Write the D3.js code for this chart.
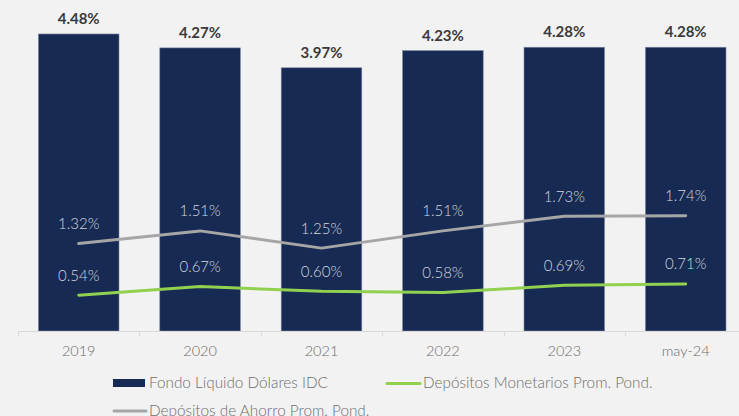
<!DOCTYPE html>
<html>
<head>
<meta charset="utf-8">
<script src="https://cdn.jsdelivr.net/npm/d3@7"></script>
<style>
  html, body { margin: 0; padding: 0; background: #f2f2f2; overflow: hidden; }
  svg { display: block; }
  text { font-family: Lato, "Open Sans", sans-serif; }
</style>
</head>
<body>
<svg id="chart" width="739" height="416"></svg>
<script>
const categories = ["2019", "2020", "2021", "2022", "2023", "may-24"];
const fondoLiquido = [4.48, 4.27, 3.97, 4.23, 4.28, 4.28];
const depAhorro = [1.32, 1.51, 1.25, 1.51, 1.73, 1.74];
const depMonetarios = [0.54, 0.67, 0.60, 0.58, 0.69, 0.71];
const legendLabels = ["Fondo Líquido Dólares IDC", "Depósitos Monetarios Prom. Pond.", "Depósitos de Ahorro Prom. Pond."];

const W = 739, H = 416;
const svg = d3.select("#chart");
svg.append("rect").attr("width", W).attr("height", H).attr("fill", "#f2f2f2");

const baseY = 331;
const x = d3.scaleBand().domain(categories).range([18, 746.4]).paddingInner(0.336).paddingOuter(0.168);
const y = d3.scaleLinear().domain([0, 5]).range([baseY, baseY - 5 * 66.3]);
const fmt = v => v.toFixed(2) + "%";
const cx = c => x(c) + x.bandwidth() / 2;

// bars
svg.append("g").selectAll("rect").data(categories).join("rect")
  .attr("x", c => x(c))
  .attr("y", (c, i) => y(fondoLiquido[i]))
  .attr("width", x.bandwidth())
  .attr("height", (c, i) => baseY - y(fondoLiquido[i]))
  .attr("fill", "#172a53")
  .attr("stroke", "#7d8aa3")
  .attr("stroke-width", 0.6);

// bar labels
svg.append("g").selectAll("text").data(categories).join("text")
  .attr("x", c => cx(c))
  .attr("y", (c, i) => y(fondoLiquido[i]) - 10)
  .attr("text-anchor", "middle")
  .attr("font-size", 15)
  .attr("font-weight", "bold")
  .attr("fill", "#3a3a3a")
  .text((c, i) => fmt(fondoLiquido[i]));

// axis
const axis = svg.append("g");
axis.append("line").attr("x1", 18).attr("x2", W).attr("y1", baseY + 0.5).attr("y2", baseY + 0.5)
  .attr("stroke", "#d9d9d9").attr("stroke-width", 1);
const step = x.step();
const bounds = categories.map(c => x(c) - step * x.paddingInner() / 2).concat([x(categories[categories.length - 1]) + x.bandwidth() + step * x.paddingInner() / 2]);
axis.selectAll("line.tick").data(bounds).join("line").attr("class", "tick")
  .attr("x1", d => Math.round(d) + 0.5).attr("x2", d => Math.round(d) + 0.5)
  .attr("y1", baseY).attr("y2", baseY + 5)
  .attr("stroke", "#d9d9d9").attr("stroke-width", 1);
axis.selectAll("text").data(categories).join("text")
  .attr("x", c => cx(c)).attr("y", 356)
  .attr("text-anchor", "middle").attr("font-size", 14.5).attr("font-weight", 300).attr("fill", "#6a6a6a")
  .text(c => c);

// lines
const line = vals => d3.line().x((d, i) => cx(categories[i])).y(d => y(d))(vals);
svg.append("path").attr("d", line(depAhorro)).attr("fill", "none")
  .attr("stroke", "#a6a6a6").attr("stroke-width", 3).attr("stroke-linecap", "round").attr("stroke-linejoin", "round");
svg.append("path").attr("d", line(depMonetarios)).attr("fill", "none")
  .attr("stroke", "#92d050").attr("stroke-width", 3).attr("stroke-linecap", "round").attr("stroke-linejoin", "round");

// line labels
const lineLabels = (vals) => svg.append("g").selectAll("text").data(vals).join("text")
  .attr("x", (d, i) => cx(categories[i]))
  .attr("y", d => y(d) - 14.5)
  .attr("text-anchor", "middle").attr("font-size", 15).attr("font-weight", 300).attr("fill", "#d3d6dd")
  .text(d => fmt(d));
lineLabels(depAhorro);
lineLabels(depMonetarios);

// legend
const lg = svg.append("g");
const legFont = 15.3;
lg.append("rect").attr("x", 113).attr("y", 379).attr("width", 32).attr("height", 8).attr("fill", "#172a53");
lg.append("text").attr("x", 149).attr("y", 388).attr("font-size", legFont).attr("font-weight", 300).attr("fill", "#6e6e6e").text(legendLabels[0]);
lg.append("line").attr("x1", 387).attr("x2", 420).attr("y1", 383.5).attr("y2", 383.5)
  .attr("stroke", "#92d050").attr("stroke-width", 3).attr("stroke-linecap", "round");
lg.append("text").attr("x", 423).attr("y", 388).attr("font-size", legFont).attr("font-weight", 300).attr("fill", "#6e6e6e").text(legendLabels[1]);
lg.append("line").attr("x1", 114).attr("x2", 146).attr("y1", 411).attr("y2", 411)
  .attr("stroke", "#a6a6a6").attr("stroke-width", 3).attr("stroke-linecap", "round");
lg.append("text").attr("x", 149).attr("y", 416).attr("font-size", legFont).attr("font-weight", 300).attr("fill", "#6e6e6e").text(legendLabels[2]);
</script>
</body>
</html>
